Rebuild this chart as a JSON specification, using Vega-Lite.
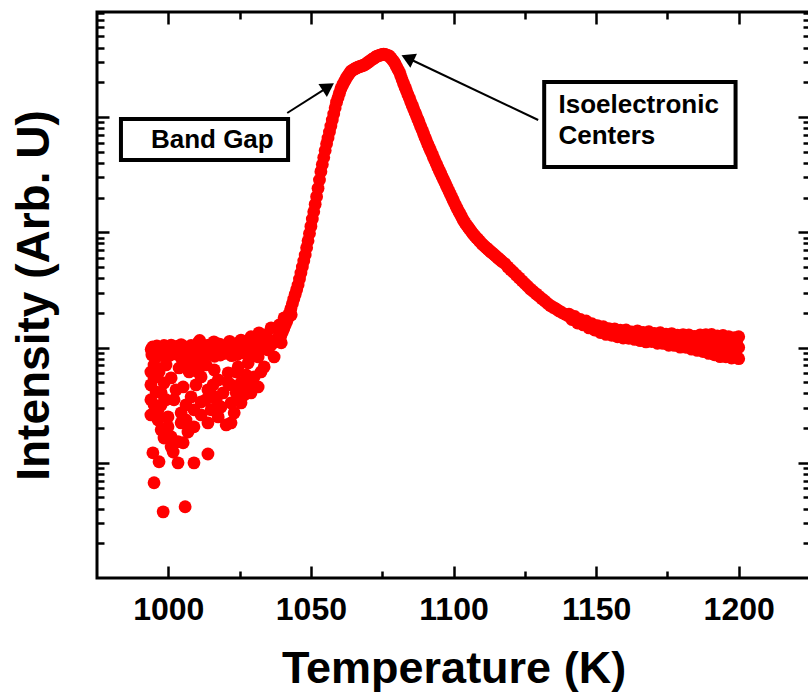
{
"$schema": "https://vega.github.io/schema/vega-lite/v6.json",
"width": 713, "height": 566,
"autosize": {"type": "none"},
"padding": {"left": 97, "top": 12, "right": 0, "bottom": 114},
"background": "white",
"config": {
 "view": {"stroke": "black", "strokeWidth": 3},
 "axis": {"domain": false, "grid": false, "tickColor": "black", "tickWidth": 2.5, "labelColor": "black", "titleColor": "black", "labelFlush": false, "labelOverlap": false, "labelFont": "Liberation Sans", "titleFont": "Liberation Sans"}
},
"datasets": {
 "pts": [
  {"T":994,"I":96},{"T":994.5,"I":101},{"T":995,"I":92},{"T":995.5,"I":98},{"T":996,"I":103},{"T":996.5,"I":94},{"T":997,"I":99},{"T":997.5,"I":90},{"T":998,"I":97},{"T":998.5,"I":104},{"T":999,"I":95},{"T":999.5,"I":100},{"T":1000,"I":93},{"T":1000.5,"I":98},{"T":1001,"I":105},{"T":1001.5,"I":96},{"T":1002,"I":91},{"T":1002.5,"I":99},{"T":1003,"I":102},{"T":1003.5,"I":94},{"T":1004,"I":97},{"T":1004.5,"I":106},{"T":1005,"I":93},{"T":1005.5,"I":98},{"T":1006,"I":101},{"T":1006.5,"I":95},{"T":1007,"I":89},{"T":1007.5,"I":99},{"T":1008,"I":104},{"T":1008.5,"I":96},{"T":1009,"I":100},{"T":1009.5,"I":92},{"T":1010,"I":98},{"T":1010.5,"I":110},{"T":1011,"I":115},{"T":1011.5,"I":103},{"T":1012,"I":96},{"T":1012.5,"I":100},{"T":1013,"I":94},{"T":1013.5,"I":99},{"T":1014,"I":105},{"T":1014.5,"I":97},{"T":1015,"I":91},{"T":1015.5,"I":101},{"T":1016,"I":112},{"T":1016.5,"I":99},{"T":1017,"I":95},{"T":1017.5,"I":102},{"T":1018,"I":107},{"T":1018.5,"I":96},{"T":1019,"I":100},{"T":1019.5,"I":93},{"T":1020,"I":98},{"T":1020.5,"I":104},{"T":1021,"I":99},{"T":1021.5,"I":113},{"T":1022,"I":97},{"T":1022.5,"I":101},{"T":1023,"I":94},{"T":1023.5,"I":103},{"T":1024,"I":108},{"T":1024.5,"I":99},{"T":1025,"I":96},{"T":1025.5,"I":114},{"T":1026,"I":102},{"T":1026.5,"I":97},{"T":1027,"I":105},{"T":1027.5,"I":100},{"T":1028,"I":109},{"T":1028.5,"I":98},{"T":1029,"I":103},{"T":1029.5,"I":110},{"T":1030,"I":101},{"T":1030.5,"I":106},{"T":1031,"I":112},{"T":1031.5,"I":104},{"T":1032,"I":108},{"T":1032.5,"I":115},{"T":1033,"I":106},{"T":1033.5,"I":111},{"T":1034,"I":118},{"T":1034.5,"I":108},{"T":1035,"I":113},{"T":1035.5,"I":104},
  {"T":994.25,"I":86},{"T":996.25,"I":84},{"T":998.25,"I":87},{"T":1000.25,"I":85},{"T":1002.25,"I":88},{"T":1004.25,"I":83},{"T":1006.25,"I":86},{"T":1008.25,"I":84},{"T":1010.25,"I":87},{"T":1012.25,"I":85},{"T":1014.25,"I":88},{"T":1016.25,"I":84},{"T":1018.25,"I":86},{"T":1020.25,"I":89},{"T":1022.25,"I":85},{"T":1024.25,"I":87},{"T":1026.25,"I":90},{"T":1028.25,"I":88},{"T":1030.25,"I":92},{"T":1032.25,"I":95},{"T":1034.25,"I":98},
  {"T":1025.5,"I":116},{"T":1029,"I":124},{"T":1031.8,"I":134},{"T":1034.3,"I":129},{"T":1036.05,"I":148},{"T":1038.9,"I":157},{"T":1040.6,"I":181},{"T":1043.1,"I":192},
  {"T":995,"I":70.6},{"T":995,"I":54.5},{"T":995.7,"I":41.2},{"T":995,"I":31.8},{"T":996.4,"I":24.5},{"T":997.5,"I":19.3},{"T":996.75,"I":61.4},{"T":1001,"I":54.5},{"T":1007.3,"I":61.4},{"T":1011.5,"I":55.6},{"T":1005.2,"I":45.5},{"T":997.5,"I":40.4},{"T":1002,"I":35.2},{"T":1008,"I":37.3},{"T":1013.9,"I":42.9},{"T":1017.5,"I":52.4},{"T":1021,"I":60.3},{"T":1024.5,"I":67.9},{"T":1028,"I":73.5},{"T":1031.5,"I":82.8},{"T":1035,"I":95.3},{"T":1021,"I":49.3},{"T":1025.5,"I":49.3},{"T":1030.1,"I":55.6},{"T":1033.6,"I":67.9},{"T":1037.1,"I":82.8},{"T":1039.6,"I":110},
  {"T":996.4,"I":28.8},{"T":999.9,"I":25},{"T":1004.5,"I":27.1},{"T":1009,"I":28.8},{"T":1015,"I":28.8},{"T":1018.5,"I":30.5},{"T":1022,"I":33.1},{"T":1023.1,"I":27.1},{"T":1020.3,"I":21.3},{"T":1022,"I":22.2},{"T":1025.5,"I":33.1},{"T":1029,"I":40.4},{"T":1031.5,"I":45.5},{"T":996.4,"I":23.5},{"T":999.9,"I":20.5},{"T":1004.5,"I":22.2},{"T":1009,"I":20.5},{"T":1013.9,"I":22.2},{"T":1017.5,"I":25},{"T":1001,"I":16.8},{"T":1003.4,"I":15.2},{"T":1001.7,"I":12.4},{"T":1005.2,"I":14.9},
  {"T":1006.2,"I":75},{"T":1013.2,"I":70.6},{"T":1016.1,"I":64},{"T":1009.7,"I":47.4},{"T":1002.7,"I":42.9},{"T":1011.5,"I":33.7},{"T":1027.3,"I":57.8},{"T":1032.5,"I":61.4},{"T":1026.6,"I":38.8},{"T":1023.8,"I":40.4},{"T":1015.7,"I":38},
  {"T":993.9,"I":47.4},{"T":998.5,"I":49.3},{"T":1009.7,"I":70.6},{"T":1015.7,"I":47.4},{"T":1019.2,"I":40.4},{"T":1027.3,"I":47.4},{"T":1023.8,"I":61.4},{"T":1006.2,"I":31.8},{"T":1011.5,"I":26},{"T":1016.8,"I":35.2},{"T":999.2,"I":35.2},{"T":1001,"I":13.7},{"T":998.5,"I":16.4},{"T":1006.9,"I":18.5},{"T":993.9,"I":61.4},{"T":993.9,"I":35.2},{"T":993.9,"I":26},
  {"T":999.2,"I":70.6},{"T":1003.8,"I":66.5},{"T":1010.4,"I":61.4},{"T":1022,"I":47.4},{"T":1029,"I":52.4},{"T":1013.2,"I":35.2},{"T":1006.2,"I":23.5},{"T":1025.5,"I":38.8},{"T":997.5,"I":31.8},
  {"T":994.6,"I":12.2},{"T":996.75,"I":10.2},{"T":1003.4,"I":9.98},{"T":1009,"I":9.98},{"T":1013.9,"I":11.9},{"T":995,"I":6.7},{"T":998.2,"I":3.75},{"T":1005.9,"I":4.15},
  {"T":1036,"I":105.4},{"T":1036.5,"I":108.4},{"T":1037,"I":111.4},{"T":1037.5,"I":114.6},{"T":1038,"I":117.8},{"T":1038.5,"I":121.1},{"T":1039,"I":124.5},{"T":1039.5,"I":127.6},{"T":1040,"I":136.1},{"T":1040.5,"I":146.2},{"T":1041,"I":156.7},{"T":1041.5,"I":168.3},{"T":1042,"I":180.7},{"T":1042.5,"I":198.6},{"T":1043,"I":218.3},{"T":1043.5,"I":239.9},{"T":1044,"I":263},{"T":1044.5,"I":289.1},{"T":1045,"I":317.7},{"T":1045.5,"I":349.1},{"T":1046,"I":393.6},{"T":1046.5,"I":443.6},{"T":1047,"I":500},{"T":1047.5,"I":563.6},{"T":1048,"I":635.3},{"T":1048.5,"I":732.8},{"T":1049,"I":845.3},{"T":1049.5,"I":975},{"T":1050,"I":1124.6},{"T":1050.5,"I":1300},{"T":1051,"I":1507},{"T":1051.5,"I":1746},{"T":1052,"I":2037},{"T":1052.5,"I":2404},{"T":1053,"I":2838},{"T":1053.5,"I":3357},{"T":1054,"I":3873},{"T":1054.5,"I":4446},{"T":1055,"I":5117},{"T":1055.5,"I":5848},{"T":1056,"I":6577},{"T":1056.5,"I":7413},{"T":1057,"I":8337},{"T":1057.5,"I":9397},{"T":1058,"I":10617},{"T":1058.5,"I":11995},{"T":1059,"I":13459},{"T":1059.5,"I":14690},{"T":1060,"I":16069},{"T":1060.5,"I":17539},{"T":1061,"I":18664},{"T":1061.5,"I":19724},{"T":1062,"I":20845},{"T":1062.5,"I":21979},{"T":1063,"I":22909},{"T":1063.5,"I":23878},{"T":1064,"I":24889},{"T":1064.5,"I":25410},{"T":1065,"I":25823},{"T":1065.5,"I":26242},{"T":1066,"I":26669},{"T":1066.5,"I":27102},{"T":1067,"I":27353},{"T":1067.5,"I":27606},{"T":1068,"I":27861},{"T":1068.5,"I":28119},{"T":1069,"I":28576},{"T":1069.5,"I":29174},{"T":1070,"I":29785},{"T":1070.5,"I":30409},{"T":1071,"I":31046},{"T":1071.5,"I":31696},{"T":1072,"I":32285},{"T":1072.5,"I":32885},{"T":1073,"I":33574},{"T":1073.5,"I":33963},{"T":1074,"I":34277},{"T":1074.5,"I":34594},{"T":1075,"I":34914},{"T":1075.5,"I":35156},{"T":1076,"I":34834},{"T":1076.5,"I":34514},{"T":1077,"I":34119},{"T":1077.5,"I":33806},{"T":1078,"I":32659},{"T":1078.5,"I":31550},{"T":1079,"I":30409},{"T":1079.5,"I":29040},{"T":1080,"I":27416},{"T":1080.5,"I":25942},{"T":1081,"I":24547},{"T":1081.5,"I":22751},{"T":1082,"I":21086},{"T":1082.5,"I":19543},{"T":1083,"I":18155},{"T":1083.5,"I":16904},{"T":1084,"I":15704},{"T":1084.5,"I":14622},{"T":1085,"I":13583},{"T":1085.5,"I":12677},{"T":1086,"I":11803},{"T":1086.5,"I":10990},{"T":1087,"I":10257},{"T":1087.5,"I":9550},{"T":1088,"I":8892},{"T":1088.5,"I":8279},{"T":1089,"I":7709},{"T":1089.5,"I":7178},{"T":1090,"I":6683},{"T":1090.5,"I":6223},{"T":1091,"I":5794},{"T":1091.5,"I":5420},{"T":1092,"I":5082},{"T":1092.5,"I":4764},{"T":1093,"I":4457},{"T":1093.5,"I":4178},{"T":1094,"I":3908},{"T":1094.5,"I":3664},{"T":1095,"I":3443},{"T":1095.5,"I":3243},{"T":1096,"I":3048},{"T":1096.5,"I":2871},{"T":1097,"I":2698},{"T":1097.5,"I":2535},{"T":1098,"I":2388},{"T":1098.5,"I":2244},{"T":1099,"I":2113},{"T":1099.5,"I":1986},{"T":1100,"I":1871},{"T":1100.5,"I":1758},{"T":1101,"I":1656},{"T":1101.5,"I":1570},{"T":1102,"I":1489},{"T":1102.5,"I":1409},{"T":1103,"I":1337},{"T":1103.5,"I":1268},{"T":1104,"I":1208},{"T":1104.5,"I":1161},{"T":1105,"I":1119},{"T":1105.5,"I":1076},{"T":1106,"I":1035},{"T":1106.5,"I":995},{"T":1107,"I":959},{"T":1107.5,"I":929},{"T":1108,"I":899},{"T":1108.5,"I":873},{"T":1109,"I":845},{"T":1109.5,"I":818},{"T":1110,"I":791},{"T":1110.5,"I":771},{"T":1111,"I":752},{"T":1111.5,"I":733},{"T":1112,"I":714},{"T":1112.5,"I":697},{"T":1113,"I":679},{"T":1113.5,"I":664},{"T":1114,"I":647},{"T":1114.5,"I":631},{"T":1115,"I":617},{"T":1115.5,"I":601},{"T":1116,"I":586},{"T":1116.5,"I":571},{"T":1117,"I":558},
  {"T":1118,"I":535},{"T":1119,"I":501},{"T":1120,"I":474},{"T":1121,"I":450},{"T":1122,"I":425},{"T":1123,"I":402},{"T":1124,"I":380},{"T":1125,"I":359},{"T":1126,"I":340},{"T":1127,"I":321},{"T":1128,"I":306},{"T":1129,"I":292},{"T":1130,"I":278},{"T":1131,"I":265},{"T":1132,"I":253},{"T":1133,"I":241},{"T":1134,"I":231},{"T":1135,"I":223},{"T":1136,"I":216},{"T":1137,"I":208},{"T":1138,"I":201},{"T":1139,"I":195},{"T":1140,"I":190},{"T":1141,"I":185},{"T":1142,"I":179},{"T":1143,"I":175},{"T":1144,"I":170},{"T":1145,"I":166},{"T":1146,"I":162},{"T":1147,"I":158.5},{"T":1148,"I":155},{"T":1149,"I":151},{"T":1150,"I":147.6},{"T":1151,"I":144.5},{"T":1152,"I":142.6},{"T":1153,"I":140.6},{"T":1154,"I":138.7},{"T":1155,"I":136.8},{"T":1156,"I":134.9},{"T":1157,"I":133.7},{"T":1158,"I":132.7},{"T":1159,"I":131.8},{"T":1160,"I":130.9},{"T":1161,"I":130},{"T":1162,"I":129.1},{"T":1163,"I":128.2},{"T":1164,"I":127.4},{"T":1165,"I":126.5},{"T":1166,"I":125.6},{"T":1167,"I":124.7},{"T":1168,"I":123.9},{"T":1169,"I":123},{"T":1170,"I":122.2},{"T":1171,"I":121.3},{"T":1172,"I":120.5},{"T":1173,"I":119.7},{"T":1174,"I":118.9},{"T":1175,"I":118},{"T":1176,"I":117.2},{"T":1177,"I":116.4},{"T":1178,"I":115.6},{"T":1179,"I":114.8},{"T":1180,"I":114},{"T":1181,"I":113.2},{"T":1182,"I":112.5},{"T":1183,"I":111.7},{"T":1184,"I":110.9},{"T":1185,"I":110.2},{"T":1186,"I":109.6},{"T":1187,"I":108.9},{"T":1188,"I":108.1},{"T":1189,"I":107.4},{"T":1190,"I":106.7},{"T":1191,"I":105.9},{"T":1192,"I":105.2},{"T":1193,"I":104.5},{"T":1194,"I":103.8},{"T":1195,"I":103},{"T":1196,"I":102.3},{"T":1197,"I":101.6},{"T":1198,"I":100.9},{"T":1199,"I":100.5},{"T":1200,"I":100},
  {"T":1140.5,"I":195},{"T":1141.5,"I":175},{"T":1142.5,"I":186},{"T":1143.5,"I":163},{"T":1144.5,"I":175},{"T":1145.5,"I":157},{"T":1146.5,"I":170},{"T":1147.5,"I":148},{"T":1148.5,"I":161},{"T":1149.5,"I":142},{"T":1150.5,"I":155},{"T":1151.5,"I":135},{"T":1152.5,"I":151.5},{"T":1153.5,"I":130},{"T":1154.5,"I":146},{"T":1155.5,"I":127.7},{"T":1156.5,"I":145},{"T":1157.5,"I":124},{"T":1158.5,"I":141.5},{"T":1159.5,"I":120.8},{"T":1160.5,"I":142},{"T":1161.5,"I":120.4},{"T":1162.5,"I":136.3},{"T":1163.5,"I":117.6},{"T":1164.5,"I":139.6},{"T":1165.5,"I":114.7},{"T":1166.5,"I":135.2},{"T":1167.5,"I":111.9},{"T":1168.5,"I":137},{"T":1169.5,"I":112.8},{"T":1170.5,"I":132.7},{"T":1171.5,"I":108.8},{"T":1172.5,"I":134.5},{"T":1173.5,"I":108.6},{"T":1174.5,"I":130.2},{"T":1175.5,"I":104.7},{"T":1176.5,"I":132},{"T":1177.5,"I":104.4},{"T":1178.5,"I":127.9},{"T":1179.5,"I":100.7},{"T":1180.5,"I":129.5},{"T":1181.5,"I":100.4},{"T":1182.5,"I":128.9},{"T":1183.5,"I":96.8},{"T":1184.5,"I":124.9},{"T":1185.5,"I":94.5},{"T":1186.5,"I":128.9},{"T":1187.5,"I":92.2},{"T":1188.5,"I":129.4},{"T":1189.5,"I":88.8},{"T":1190.5,"I":129.7},{"T":1191.5,"I":86.6},{"T":1192.5,"I":125.9},{"T":1193.5,"I":83.3},{"T":1194.5,"I":127.2},{"T":1195.5,"I":83.2},{"T":1196.5,"I":124.4},{"T":1197.5,"I":81},{"T":1198.5,"I":121.8},{"T":1199.5,"I":82.2},{"T":1200,"I":124},{"T":1200,"I":80},
  {"T":1187.25,"I":112},{"T":1189.25,"I":98},{"T":1191.25,"I":115},{"T":1193.25,"I":96},{"T":1195.25,"I":113},{"T":1197.25,"I":94},{"T":1199.25,"I":110}
 ],
 "boxes": [
  {"x1": 983.4, "x2": 1042.0, "y1": 4236, "y2": 9616},
  {"x1": 1131.8, "x2": 1198.9, "y1": 3681, "y2": 20137}
 ],
 "notes": [
  {"T": 993.9, "I": 5383, "text": "Band Gap"},
  {"T": 1136.8, "I": 10830, "text": "Isoelectronic"},
  {"T": 1136.8, "I": 5834, "text": "Centers"}
 ],
 "arrows": [
  {"x1": 1041.7, "y1": 10830, "x2": 1056.1, "y2": 18281},
  {"x1": 1129.7, "y1": 9420, "x2": 1083.9, "y2": 32509}
 ],
 "heads": [
  {"T": 1056.1, "I": 18281, "a": 57},
  {"T": 1083.9, "I": 32509, "a": 295}
 ]
},
"resolve": {"axis": {"x": "independent", "y": "independent"}},
"layer": [
 {
  "data": {"name": "pts"},
  "mark": {"type": "point", "shape": "circle", "filled": true, "color": "#ff0000", "opacity": 1, "size": 165},
  "encoding": {
   "x": {"field": "T", "type": "quantitative", "scale": {"domain": [975, 1225], "nice": false, "zero": false},
    "axis": {"orient": "bottom", "values": [1000, 1050, 1100, 1150, 1200], "format": "d", "tickSize": -12, "labelPadding": 28, "labelFontSize": 32, "labelFontWeight": "bold", "title": "Temperature (K)", "titleFontSize": 45, "titleFontWeight": "bold", "titlePadding": 21}},
   "y": {"field": "I", "type": "quantitative", "scale": {"type": "log", "domain": [1, 81500], "nice": false},
    "axis": {"orient": "left", "values": [10, 100, 1000, 10000], "tickSize": -12, "labels": false, "title": "Intensity (Arb. U)", "titleFontSize": 46, "titleFontWeight": "bold", "titlePadding": 37}}
  }
 },
 {
  "data": {"name": "boxes"},
  "mark": {"type": "rect", "fill": "white", "stroke": "black", "strokeWidth": 4},
  "encoding": {
   "x": {"field": "x1", "type": "quantitative", "scale": {"domain": [975, 1225], "nice": false, "zero": false},
    "axis": {"orient": "bottom", "values": [1025, 1075, 1125, 1175], "tickSize": -7, "labels": false, "title": null}},
   "x2": {"field": "x2"},
   "y": {"field": "y1", "type": "quantitative", "scale": {"type": "log", "domain": [1, 81500], "nice": false},
    "axis": {"orient": "left", "values": [2,3,4,5,6,7,8,9,20,30,40,50,60,70,80,90,200,300,400,500,600,700,800,900,2000,3000,4000,5000,6000,7000,8000,9000,20000,30000,40000,50000,60000,70000,80000], "tickSize": -7, "labels": false, "title": null}},
   "y2": {"field": "y2"}
  }
 },
 {
  "data": {"name": "notes"},
  "mark": {"type": "text", "font": "Liberation Sans", "fontWeight": "bold", "fontSize": 26, "align": "left", "baseline": "alphabetic", "color": "black"},
  "encoding": {
   "x": {"field": "T", "type": "quantitative", "scale": {"domain": [975, 1225], "nice": false, "zero": false},
    "axis": {"orient": "top", "values": [1000, 1050, 1100, 1150, 1200], "tickSize": -12, "labels": false, "title": null}},
   "y": {"field": "I", "type": "quantitative", "scale": {"type": "log", "domain": [1, 81500], "nice": false},
    "axis": {"orient": "right", "values": [10, 100, 1000, 10000], "tickSize": -12, "labels": false, "title": null}},
   "text": {"field": "text"}
  }
 },
 {
  "data": {"name": "arrows"},
  "mark": {"type": "rule", "color": "black", "strokeWidth": 2},
  "encoding": {
   "x": {"field": "x1", "type": "quantitative", "scale": {"domain": [975, 1225], "nice": false, "zero": false},
    "axis": {"orient": "top", "values": [1025, 1075, 1125, 1175], "tickSize": -7, "labels": false, "title": null}},
   "x2": {"field": "x2"},
   "y": {"field": "y1", "type": "quantitative", "scale": {"type": "log", "domain": [1, 81500], "nice": false},
    "axis": {"orient": "right", "values": [2,3,4,5,6,7,8,9,20,30,40,50,60,70,80,90,200,300,400,500,600,700,800,900,2000,3000,4000,5000,6000,7000,8000,9000,20000,30000,40000,50000,60000,70000,80000], "tickSize": -7, "labels": false, "title": null}},
   "y2": {"field": "y2"}
  }
 },
 {
  "data": {"name": "heads"},
  "mark": {"type": "point", "shape": "triangle-up", "filled": true, "color": "black", "opacity": 1, "size": 240},
  "encoding": {
   "x": {"field": "T", "type": "quantitative", "scale": {"domain": [975, 1225], "nice": false, "zero": false}, "axis": null},
   "y": {"field": "I", "type": "quantitative", "scale": {"type": "log", "domain": [1, 81500], "nice": false}, "axis": null},
   "angle": {"field": "a", "type": "quantitative", "scale": null}
  }
 }
]
}
